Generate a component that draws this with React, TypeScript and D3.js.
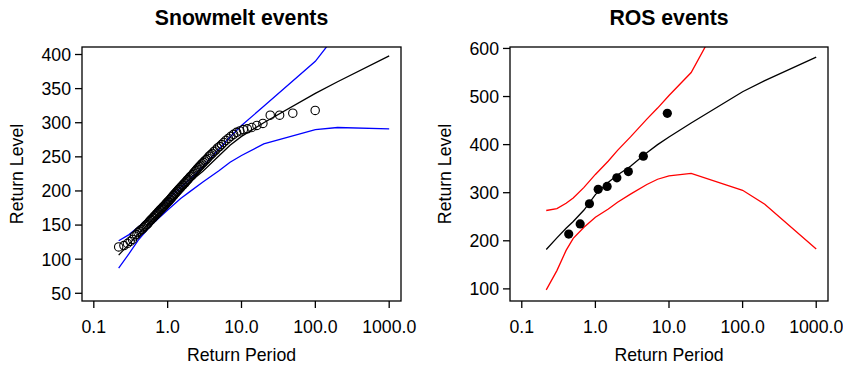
import React from "react";
import * as d3 from "d3";

// ---------- data ----------
const xTickValues = [0.1, 1, 10, 100, 1000];
const xTickLabels = ["0.1", "1.0", "10.0", "100.0", "1000.0"];

// Snowmelt events: observed levels (ascending), plotted at Gumbel plotting positions
const snowLevels = [
  118, 120, 123, 126, 129, 134, 136, 139, 141, 143,
  144, 146, 148, 150, 151, 153, 155, 157, 158, 160,
  161, 163, 164, 166, 167, 169, 170, 172, 173, 174,
  176, 177, 178, 180, 181, 183, 184, 185, 187, 188,
  190, 191, 193, 194, 196, 197, 199, 200, 202, 203,
  205, 206, 208, 209, 211, 212, 214, 216, 217, 219,
  221, 222, 224, 226, 228, 230, 232, 234, 236, 238,
  240, 242, 244, 246, 248, 251, 253, 255, 258, 260,
  263, 265, 268, 271, 274, 277, 280, 283, 286, 288,
  290, 291, 293, 296, 299, 311, 311, 314, 318,
];
const snowCurvePeriods = [0.217, 0.3, 0.4, 0.6, 1, 1.5, 2, 3, 5, 7, 10, 20, 100, 200, 1000];
const snowFit = [106, 122, 137, 156, 180, 199, 213, 229, 252, 267, 280, 300, 343, 360, 398];
const snowUpper = [127, 136, 147, 165, 187, 205, 217, 236, 262, 279, 296, 324, 390, 432, 520];
const snowLower = [87, 108, 128, 150, 172, 189, 199, 213, 230, 242, 252, 269, 290, 293, 291];
const snowYTicks = [50, 100, 150, 200, 250, 300, 350, 400];

// ROS events
const rosLevels = [214, 235, 277, 307, 313, 331, 344, 376, 465];
const rosCurvePeriods = [0.215, 0.3, 0.4, 0.5, 0.7, 1, 1.5, 2, 3, 5, 7, 10, 20, 100, 200, 1000];
const rosFit = [182, 206, 226, 240, 264, 296, 322, 337, 355, 383, 400, 416, 445, 510, 533, 582];
const rosUpper = [263, 267, 278, 289, 311, 338, 366, 388, 416, 453, 476, 502, 550, 745, 830, 1000];
const rosLower = [98, 138, 180, 205, 228, 249, 266, 280, 297, 317, 328, 335, 340, 305, 276, 183];
const rosYTicks = [100, 200, 300, 400, 500, 600];

// Gumbel plotting position -> return period
const plotPeriods = (levels: number[]) =>
  levels.map((_, i) => -1 / Math.log((i + 1) / (levels.length + 1)));

const FONT = "'Liberation Sans', Arial, Helvetica, sans-serif";
const FS = 17.7;

type Series = { periods: number[]; values: number[]; color: string };

function Panel(props: {
  id: string;
  title: string;
  x0: number; x1: number; y0: number; y1: number;
  yDomain: [number, number];
  yTicks: number[];
  levels: number[];
  filled: boolean;
  curves: Series[];
}) {
  const { id, title, x0, x1, y0, y1, yDomain, yTicks, levels, filled, curves } = props;
  const x = d3.scaleLog().domain([Math.pow(10, -1.16), Math.pow(10, 3.16)]).range([x0, x1]);
  const y = d3.scaleLinear().domain(yDomain).range([y1, y0]);
  const periods = plotPeriods(levels);
  const line = d3
    .line<[number, number]>()
    .x((d) => x(d[0]))
    .y((d) => y(d[1]));
  const cx = (x0 + x1) / 2;
  const cy = (y0 + y1) / 2;
  const tick = 7;
  return (
    <g>
      <defs>
        <clipPath id={id}>
          <rect x={x0} y={y0} width={x1 - x0} height={y1 - y0} />
        </clipPath>
      </defs>
      <text x={cx} y={25} textAnchor="middle" fontFamily={FONT} fontWeight="bold" fontSize={FS * 1.2}>
        {title}
      </text>
      <g clipPath={`url(#${id})`}>
        {curves.map((c, i) => (
          <path
            key={i}
            d={line(c.periods.map((p, j) => [p, c.values[j]] as [number, number])) || ""}
            fill="none"
            stroke={c.color}
            strokeWidth={1.3}
          />
        ))}
        {levels.map((v, i) =>
          filled ? (
            <circle key={i} cx={x(periods[i])} cy={y(v)} r={4.6} fill="black" />
          ) : (
            <circle key={i} cx={x(periods[i])} cy={y(v)} r={4.2} fill="none" stroke="black" strokeWidth={1.1} />
          )
        )}
      </g>
      <rect x={x0} y={y0} width={x1 - x0} height={y1 - y0} fill="none" stroke="black" strokeWidth={1.3} />
      {xTickValues.map((t, i) => (
        <g key={t}>
          <line x1={x(t)} x2={x(t)} y1={y1} y2={y1 + tick} stroke="black" strokeWidth={1.3} />
          <text x={x(t)} y={333} textAnchor="middle" fontFamily={FONT} fontSize={FS}>
            {xTickLabels[i]}
          </text>
        </g>
      ))}
      {yTicks.map((t) => (
        <g key={t}>
          <line x1={x0 - tick} x2={x0} y1={y(t)} y2={y(t)} stroke="black" strokeWidth={1.3} />
          <text x={x0 - 11} y={y(t)} dy="0.36em" textAnchor="end" fontFamily={FONT} fontSize={FS}>
            {t}
          </text>
        </g>
      ))}
      <text x={cx} y={361} textAnchor="middle" fontFamily={FONT} fontSize={FS}>
        Return Period
      </text>
      <text
        transform={`translate(${x0 - 59},${cy}) rotate(-90)`}
        textAnchor="middle"
        fontFamily={FONT}
        fontSize={FS}
      >
        Return Level
      </text>
    </g>
  );
}

export default function App() {
  return (
    <svg
      width={843}
      height={365}
      style={{ position: "fixed", left: 0, top: 0, background: "white" }}
    >
      <rect width={843} height={365} fill="white" />
      <Panel
        id="clipL"
        title="Snowmelt events"
        x0={82} x1={401} y0={47} y1={301}
        yDomain={[38.7, 411]}
        yTicks={snowYTicks}
        levels={snowLevels}
        filled={false}
        curves={[
          { periods: snowCurvePeriods, values: snowFit, color: "black" },
          { periods: snowCurvePeriods, values: snowUpper, color: "blue" },
          { periods: snowCurvePeriods, values: snowLower, color: "blue" },
        ]}
      />
      <Panel
        id="clipR"
        title="ROS events"
        x0={510} x1={828} y0={47} y1={301}
        yDomain={[74.8, 603]}
        yTicks={rosYTicks}
        levels={rosLevels}
        filled={true}
        curves={[
          { periods: rosCurvePeriods, values: rosFit, color: "black" },
          { periods: rosCurvePeriods, values: rosUpper, color: "red" },
          { periods: rosCurvePeriods, values: rosLower, color: "red" },
        ]}
      />
    </svg>
  );
}
